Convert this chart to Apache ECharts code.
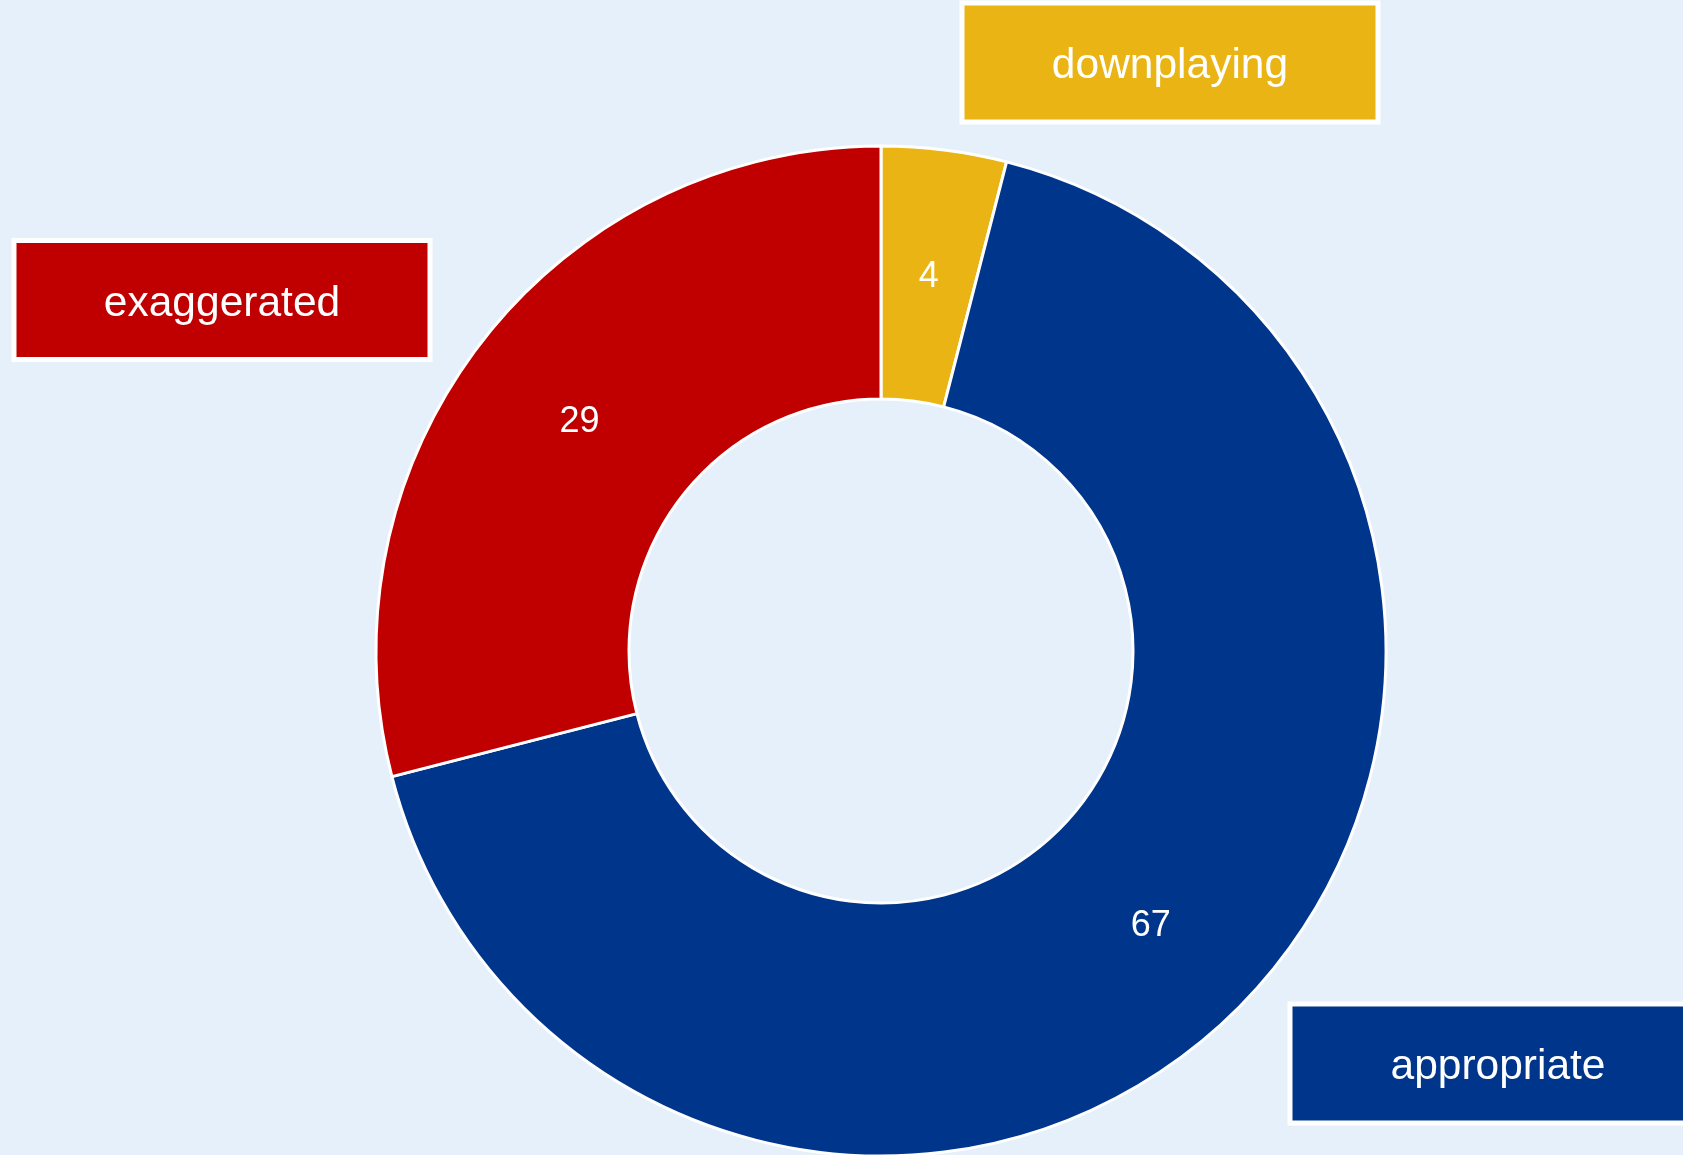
<!DOCTYPE html>
<html>
<head>
<meta charset="utf-8">
<script src="https://cdn.jsdelivr.net/npm/echarts@6/dist/echarts.min.js"></script>
<style>
html,body{margin:0;padding:0;background:#E6F0FA;}
#chart{width:1683px;height:1155px;}
</style>
</head>
<body>
<div id="chart"></div>
<script>
// Data
const categories = ['downplaying', 'appropriate', 'exaggerated'];
const values = [4, 67, 29];
const colors = ['#E9B414', '#00358C', '#C00000'];
// Label box anchor positions (layout, not data)
const labelBoxPos = [[1170, 62.5], [1498, 1063.5], [222, 300]];

const FONT = '"Liberation Sans", Arial, Helvetica, sans-serif';

const chart = echarts.init(document.getElementById('chart'), null, {renderer: 'canvas'});

const ringData = categories.map((c, i) => ({
  name: c,
  value: values[i],
  itemStyle: {color: colors[i]}
}));

const boxData = categories.map((c, i) => ({
  name: c,
  value: values[i],
  label: {backgroundColor: colors[i]}
}));

chart.setOption({
  backgroundColor: '#E6F0FA',
  animation: false,
  series: [
    {
      type: 'pie',
      center: [881, 651],
      radius: [252, 505],
      startAngle: 90,
      clockwise: true,
      silent: true,
      itemStyle: {borderColor: '#ffffff', borderWidth: 3},
      label: {
        show: true,
        position: 'inside',
        formatter: '{pad| }\n{v|{c}}',
        color: '#ffffff',
        fontSize: 36,
        fontFamily: FONT,
        rich: {
          pad: {fontSize: 2, lineHeight: 10, color: 'transparent'},
          v: {fontSize: 36, lineHeight: 40, color: '#ffffff', fontFamily: FONT}
        }
      },
      labelLine: {show: false},
      emphasis: {disabled: true},
      data: ringData
    },
    {
      type: 'pie',
      center: [881, 651],
      radius: [252, 505],
      startAngle: 90,
      clockwise: true,
      silent: true,
      itemStyle: {color: 'transparent', borderWidth: 0},
      label: {
        show: true,
        position: 'outside',
        formatter: '{pad| }\n{t|{b}}',
        color: '#ffffff',
        fontSize: 42.5,
        fontFamily: FONT,
        width: 411,
        height: 114,
        align: 'center',
        verticalAlign: 'middle',
        borderColor: '#ffffff',
        borderWidth: 5,
        padding: 0,
        rich: {
          pad: {fontSize: 2, lineHeight: 8, color: 'transparent'},
          t: {fontSize: 42.5, lineHeight: 106, color: '#ffffff', fontFamily: FONT}
        }
      },
      labelLine: {show: false},
      labelLayout: function (params) {
        const p = labelBoxPos[params.dataIndex];
        return {x: p[0], y: p[1], align: 'center', verticalAlign: 'middle', moveOverlap: null};
      },
      emphasis: {disabled: true},
      data: boxData
    }
  ]
});
</script>
</body>
</html>
